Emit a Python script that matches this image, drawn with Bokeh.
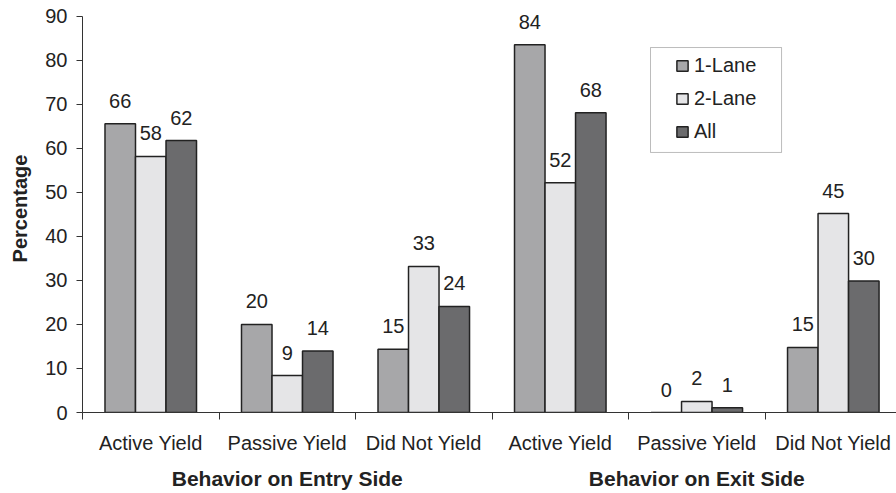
from bokeh.plotting import figure
from bokeh.models import (ColumnDataSource, FixedTicker, Legend, LegendItem,
                          LinearAxis, BoxAnnotation)
from bokeh.transform import dodge
from bokeh.core.properties import value
from bokeh.embed import file_html
from bokeh.resources import INLINE

# ---- data ----
categories = ["Active Yield", "Passive Yield", "Did Not Yield",
              "Active Yield", "Passive Yield", "Did Not Yield"]
groups = ["Behavior on Entry Side", "Behavior on Exit Side"]
series = ["1-Lane", "2-Lane", "All"]
lane1 = [65.6, 20.0, 14.4, 83.6, 0.0, 14.8]
lane2 = [58.2, 8.4, 33.2, 52.2, 2.5, 45.2]
all_lanes = [61.8, 14.0, 24.1, 68.1, 1.1, 29.9]
lane1_lbl = ["66", "20", "15", "84", "0", "15"]
lane2_lbl = ["58", "9", "33", "52", "2", "45"]
all_lbl = ["62", "14", "24", "68", "1", "30"]
y_ticks = [0, 10, 20, 30, 40, 50, 60, 70, 80, 90]

colors = ["#a7a7a9", "#e5e5e7", "#6b6b6d"]
FONT = "Liberation Sans"
TXT = "#222222"
FS = "20px"

x = [i + 0.5 for i in range(len(categories))]
group_x = [1.5, 4.5]
src = ColumnDataSource(dict(x=x, l1=lane1, l2=lane2, al=all_lanes,
                            t1=lane1_lbl, t2=lane2_lbl, ta=all_lbl))

p = figure(width=896, height=493, output_backend="svg", toolbar_location=None,
           x_range=(0, 5.963), y_range=(0, 92.727),
           min_border_left=82, min_border_right=0, min_border_top=4,
           min_border_bottom=81)
p.outline_line_color = None
p.xgrid.grid_line_color = None
p.ygrid.grid_line_color = None
p.background_fill_color = "white"

bw = 0.2235
renderers = []
for off, col, c, t in [(-bw, "l1", colors[0], "t1"), (0, "l2", colors[1], "t2"),
                       (bw, "al", colors[2], "ta")]:
    r = p.vbar(x=dodge("x", off, range=p.x_range), top=col, width=bw, source=src,
               fill_color=c, line_color="#222222", line_width=1.5)
    renderers.append(r)
    p.text(x=dodge("x", off, range=p.x_range), y=col, text=t, source=src,
           text_align="center", text_baseline="alphabetic", y_offset=-23,
           text_font=value(FONT), text_font_size=FS, text_color=TXT)

# y axis
ya = p.yaxis[0]
ya.ticker = FixedTicker(ticks=y_ticks)
ya.bounds = (0, 90)
ya.minor_tick_line_color = None
ya.major_tick_out = 6
ya.major_tick_in = 0
ya.axis_line_color = "#333333"
ya.major_tick_line_color = "#333333"
ya.major_label_text_font = FONT
ya.major_label_text_font_size = FS
ya.major_label_text_color = TXT
ya.major_label_standoff = 9
ya.axis_label = "Percentage"
ya.axis_label_text_font = FONT
ya.axis_label_text_font_size = FS
ya.axis_label_text_font_style = "bold"
ya.axis_label_text_color = TXT
ya.axis_label_standoff = 11

# x axis (category labels, boundary ticks)
xa = p.xaxis[0]
xa.ticker = FixedTicker(ticks=x, minor_ticks=list(range(7)))
xa.major_label_overrides = {v: c for v, c in zip(x, categories)}
xa.major_tick_line_color = None
xa.major_tick_out = 0
xa.minor_tick_out = 7
xa.minor_tick_in = 0
xa.minor_tick_line_color = "#333333"
xa.axis_line_color = "#333333"
xa.major_label_text_font = FONT
xa.major_label_text_font_size = FS
xa.major_label_text_color = TXT
xa.major_label_standoff = 12

# second x axis (group titles)
ga = LinearAxis(ticker=FixedTicker(ticks=group_x, minor_ticks=[]),
                major_label_overrides={v: g for v, g in zip(group_x, groups)})
ga.axis_line_color = None
ga.major_tick_line_color = None
ga.minor_tick_line_color = None
ga.major_tick_out = 0
ga.major_label_standoff = 10
ga.major_label_text_font = FONT
ga.major_label_text_font_size = "21px"
ga.major_label_text_font_style = "bold"
ga.major_label_text_color = TXT
p.add_layout(ga, "below")

# legend box + legend
box = BoxAnnotation(left=4.161, right=5.121, top=82.95, bottom=59.1,
                    fill_color="white", fill_alpha=1,
                    line_color="#222222", line_width=1, level="annotation")
p.add_layout(box)

legend = Legend(items=[LegendItem(label=s, renderers=[r]) for s, r in zip(series, renderers)],
                location=(593, 269), orientation="vertical")
legend.border_line_color = None
legend.background_fill_alpha = 0
legend.label_text_font = FONT
legend.label_text_font_size = FS
legend.label_text_color = TXT
legend.glyph_width = 14
legend.glyph_height = 13
legend.label_height = 20
legend.label_standoff = 5
legend.spacing = 10
legend.padding = 7
legend.margin = 0
legend.label_width = 60
p.add_layout(legend, "center")

open("out.html", "w").write(file_html(p, INLINE))
